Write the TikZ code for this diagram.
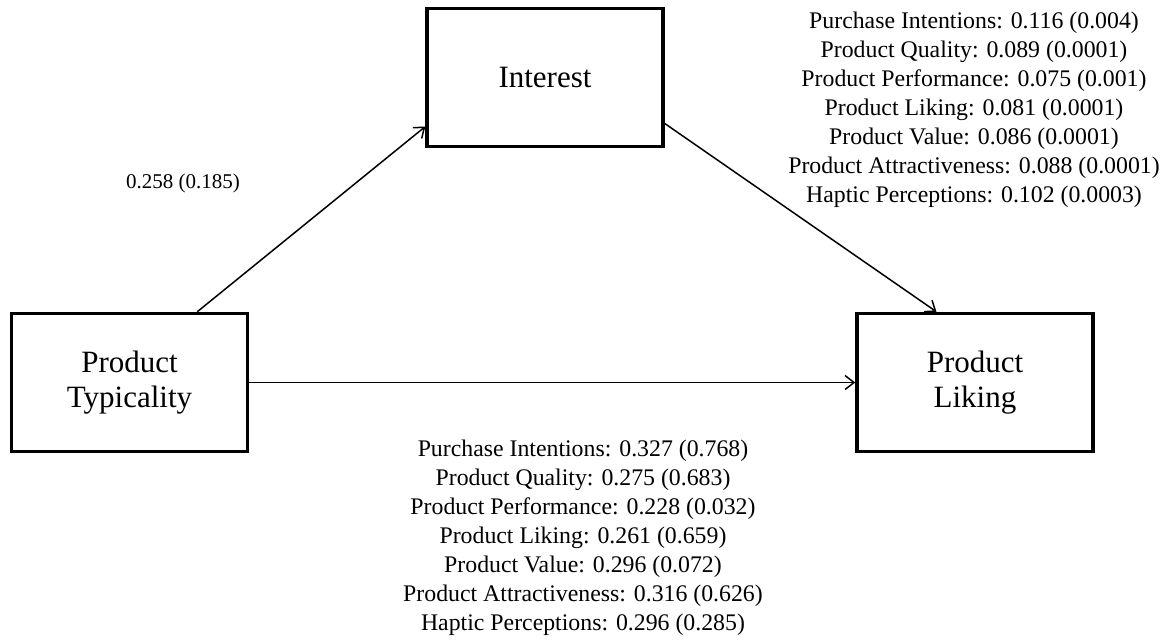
\documentclass[tikz,border=0pt]{standalone}
\usepackage{fontspec}
\setmainfont{Liberation Serif}
\usetikzlibrary{arrows.meta,calc}
\begin{document}
\begin{tikzpicture}[x=1pt,y=-1pt,
  box/.style={draw,line width=3.5pt,minimum width=236pt,minimum height=138pt,inner sep=0pt,align=center,font=\fontsize{31}{35}\selectfont},
  conn/.style={line width=1.5pt,-{Straight Barb[length=9pt,width=14pt,line width=1.5pt]}},
  stat/.style={align=center,inner sep=0pt,anchor=north,font=\fontsize{23.8}{29}\selectfont}]
\useasboundingbox (0,0) rectangle (1168,641);
\node[box] (int) at (545,77.5) {Interest};
\node[box] (typ) at (129.5,382.5) {Product\\Typicality};
\node[box] (lik) at (975,382.5) {Product\\Liking};
\draw[conn] ($(typ.north west)!0.783!(typ.north east)$) -- ($(int.north west)!0.847!(int.south west)$);
\draw[conn] ($(int.north east)!0.825!(int.south east)$) -- ($(lik.north west)!0.339!(lik.north east)$);
\draw[conn] (typ.east) -- (lik.west);
\node[font=\fontsize{21}{25}\selectfont,inner sep=0pt] (apath) at (183,183) {0.258 (0.185)};
\node[stat] (ind) at (974,11.5) {Purchase Intentions: 0.116 (0.004)\\
Product Quality: 0.089 (0.0001)\\
Product Performance: 0.075 (0.001)\\
Product Liking: 0.081 (0.0001)\\
Product Value: 0.086 (0.0001)\\
Product Attractiveness: 0.088 (0.0001)\\
Haptic Perceptions: 0.102 (0.0003)};
\node[stat] (dir) at (583,439.5) {Purchase Intentions: 0.327 (0.768)\\
Product Quality: 0.275 (0.683)\\
Product Performance: 0.228 (0.032)\\
Product Liking: 0.261 (0.659)\\
Product Value: 0.296 (0.072)\\
Product Attractiveness: 0.316 (0.626)\\
Haptic Perceptions: 0.296 (0.285)};
\end{tikzpicture}
\end{document}
